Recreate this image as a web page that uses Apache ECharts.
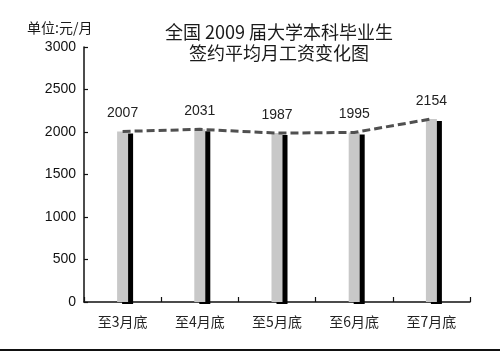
<!DOCTYPE html>
<html>
<head>
<meta charset="utf-8">
<script src="https://cdn.jsdelivr.net/npm/echarts@6/dist/echarts.min.js"></script>
<style>
html,body{margin:0;padding:0;background:#fff;}
#chart{width:500px;height:362px;}
</style>
</head>
<body>
<div id="chart"></div>
<script>
var categories = ['至3月底', '至4月底', '至5月底', '至6月底', '至7月底'];
var salaries = [2007, 2031, 1987, 1995, 2154];
var yTicks = { min: 0, max: 3000, interval: 500 };
var titleLine1 = '全国 2009 届大学本科毕业生';
var titleLine2 = '签约平均月工资变化图';
var unitText = '单位:元/月';

var chart = echarts.init(document.getElementById('chart'), null, { renderer: 'canvas' });
var cjk = '"Noto Sans CJK SC", sans-serif';
var num = '"Liberation Sans", Arial, sans-serif';

chart.setOption({
  backgroundColor: '#ffffff',
  animation: false,
  title: [
    { text: titleLine1, left: 274, top: 18, textAlign: 'center',
      textStyle: { fontFamily: cjk, fontSize: 18, fontWeight: 'normal', color: '#1a1a1a' } },
    { text: titleLine2, left: 274, top: 39, textAlign: 'center',
      textStyle: { fontFamily: cjk, fontSize: 18, fontWeight: 'normal', color: '#1a1a1a' } },
    { text: unitText, left: 22, top: 16,
      textStyle: { fontFamily: cjk, fontSize: 14, fontWeight: 'normal', color: '#1a1a1a' } }
  ],
  grid: { left: 84, right: 30, top: 47, bottom: 60, containLabel: false },
  xAxis: {
    type: 'category',
    data: categories,
    offset: 3,
    boundaryGap: true,
    axisLine: { show: true, lineStyle: { color: '#111', width: 1.5 } },
    axisTick: { show: true, inside: true, length: 5, lineStyle: { color: '#111', width: 1.2 } },
    axisLabel: { margin: 10, fontFamily: cjk, fontSize: 14, color: '#222' },
    splitLine: { show: false }
  },
  yAxis: {
    type: 'value',
    min: yTicks.min,
    max: yTicks.max,
    interval: yTicks.interval,
    axisLine: { show: true, lineStyle: { color: '#111', width: 1.5 } },
    axisTick: { show: true, inside: true, length: 4, lineStyle: { color: '#111', width: 1.2 } },
    axisLabel: { margin: 8, fontFamily: num, fontSize: 14, color: '#111',
      formatter: function (v) { return String(v); } },
    splitLine: { show: false }
  },
  series: [
    {
      type: 'bar',
      data: salaries,
      barWidth: 11,
      z: 2,
      itemStyle: {
        color: '#c8c8c8',
        shadowColor: '#000000',
        shadowOffsetX: 5,
        shadowOffsetY: 2,
        shadowBlur: 0
      },
      label: {
        show: true,
        position: 'top',
        distance: 11,
        fontFamily: num,
        fontSize: 14,
        color: '#222'
      }
    },
    {
      type: 'line',
      data: salaries,
      z: 5,
      symbol: 'none',
      lineStyle: { color: '#505050', width: 3, type: [8, 4] }
    }
  ],
  graphic: [
    { type: 'line', shape: { x1: 0, y1: 350, x2: 500, y2: 350 },
      style: { stroke: '#111', lineWidth: 2 } }
  ]
});
</script>
</body>
</html>
